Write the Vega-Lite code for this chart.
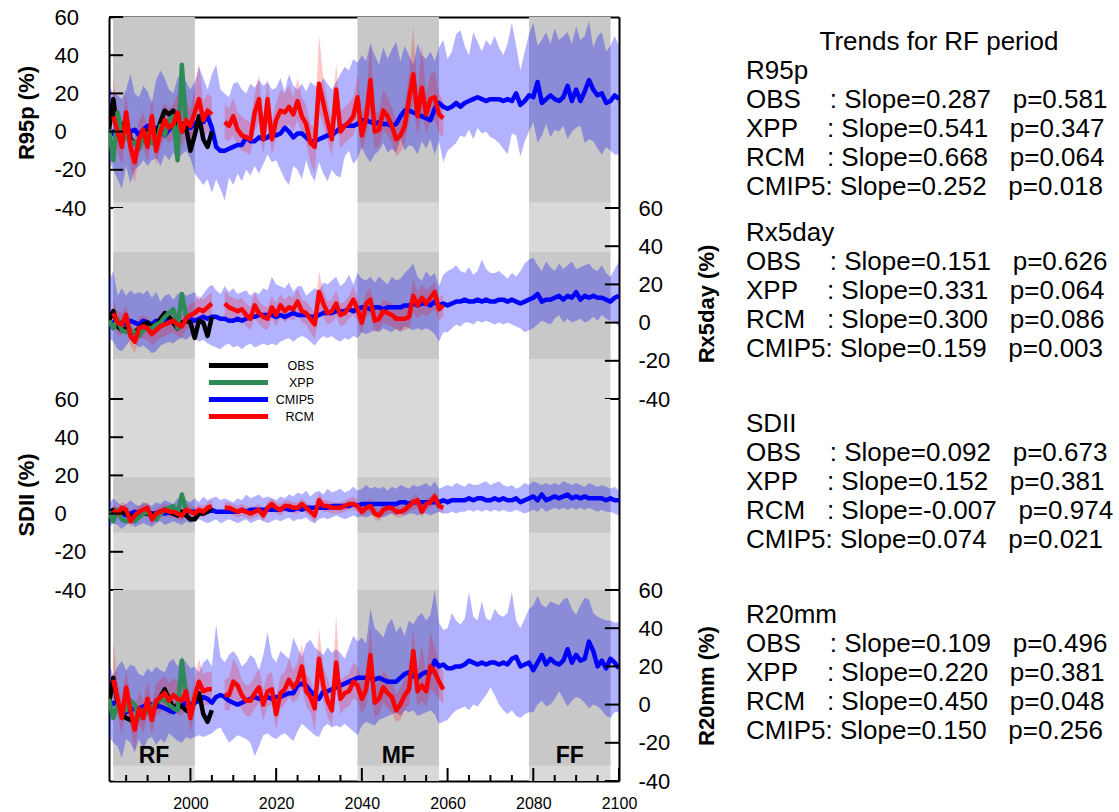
{
"$schema": "https://vega.github.io/schema/vega-lite/v6.json",
"padding": {"left": 15, "top": 6, "right": 0, "bottom": 0},
"autosize": {"type": "pad"},
"config": {
 "font": "Liberation Sans",
 "view": {"stroke": null},
 "axis": {"domainColor": "#000", "domainWidth": 2, "labelColor": "#000", "titleColor": "#000", "labelFont": "Liberation Sans", "titleFont": "Liberation Sans", "grid": false, "ticks": false, "zindex": 1},
 "legend": {"padding": 0}
},
"datasets": {
"yt": [{"v":-40},{"v":-20},{"v":0},{"v":20},{"v":40},{"v":60}],
"xmaj": [{"v":2000},{"v":2020},{"v":2040},{"v":2060},{"v":2080},{"v":2100}],
"xmin": [{"v":1985},{"v":1990},{"v":1995},{"v":2005},{"v":2010},{"v":2015},{"v":2025},{"v":2030},{"v":2035},{"v":2045},{"v":2050},{"v":2055},{"v":2065},{"v":2070},{"v":2075},{"v":2085},{"v":2090},{"v":2095}],
"bands": [{"a":1982,"b":2001},{"a":2039,"b":2058},{"a":2079,"b":2098}],
"dark": [
{"p":"R95p","a":1982,"b":2001,"lo":-37,"hi":60},{"p":"R95p","a":2039,"b":2058,"lo":-37,"hi":60},{"p":"R95p","a":2079,"b":2098,"lo":-37,"hi":60},
{"p":"Rx5day","a":1982,"b":2001,"lo":-19,"hi":37},{"p":"Rx5day","a":2039,"b":2058,"lo":-19,"hi":37},{"p":"Rx5day","a":2079,"b":2098,"lo":-19,"hi":37},
{"p":"SDII","a":1982,"b":2001,"lo":-10,"hi":19},{"p":"SDII","a":2039,"b":2058,"lo":-10,"hi":19},{"p":"SDII","a":2079,"b":2098,"lo":-10,"hi":19},
{"p":"R20mm","a":1982,"b":2001,"lo":-32,"hi":60},{"p":"R20mm","a":2039,"b":2058,"lo":-32,"hi":60},{"p":"R20mm","a":2079,"b":2098,"lo":-32,"hi":60}
],
"r95": [
{"t":1981,"m":-3,"lo":-15,"hi":24,"o":1,"x":1},
{"t":1982,"m":0,"lo":-20,"hi":20,"s":1,"r":8,"rl":-5,"rh":29,"o":17,"x":-15},
{"t":1983,"m":1,"lo":-25,"hi":19,"s":1,"r":0,"rl":-10,"rh":10,"o":-1,"x":10},
{"t":1984,"m":-1,"lo":-30,"hi":17,"s":1,"r":-8,"rl":-18,"rh":4,"o":2,"x":-1},
{"t":1985,"m":2,"lo":-18,"hi":22,"s":1,"r":10,"rl":-2,"rh":20,"o":6,"x":-3},
{"t":1986,"m":0,"lo":-27,"hi":30,"s":1,"r":-8,"rl":-18,"rh":2,"o":-4,"x":-5},
{"t":1987,"m":1,"lo":-20,"hi":20,"s":1,"r":-16,"rl":-27,"rh":-5,"o":-6,"x":-6},
{"t":1988,"m":-2,"lo":-18,"hi":18,"s":1,"r":-4,"rl":-12,"rh":6,"o":-8,"x":-9},
{"t":1989,"m":1,"lo":-15,"hi":24,"s":1,"r":1,"rl":-8,"rh":10,"o":-3,"x":-2},
{"t":1990,"m":3,"lo":-18,"hi":21,"s":1,"r":-8,"rl":-16,"rh":2,"o":0,"x":-1},
{"t":1991,"m":0,"lo":-15,"hi":15,"s":1,"r":8,"rl":-2,"rh":18,"o":3,"x":-6},
{"t":1992,"m":2,"lo":-14,"hi":27,"s":1,"r":-10,"rl":-18,"rh":0,"o":-2,"x":-7},
{"t":1993,"m":0,"lo":-18,"hi":32,"s":1,"r":0,"rl":-8,"rh":10,"o":5,"x":3},
{"t":1994,"m":-2,"lo":-12,"hi":28,"s":1,"r":6,"rl":-3,"rh":15,"o":11,"x":-2},
{"t":1995,"m":1,"lo":-15,"hi":22,"s":1,"r":2,"rl":-6,"rh":12,"o":9,"x":6},
{"t":1996,"m":3,"lo":-11,"hi":20,"s":1,"r":4,"rl":-4,"rh":14,"o":11,"x":8},
{"t":1997,"m":2,"lo":-15,"hi":28,"s":1,"r":10,"rl":0,"rh":20,"o":-1,"x":-15},
{"t":1998,"m":0,"lo":-12,"hi":30,"s":1,"r":0,"rl":-8,"rh":10,"o":4,"x":35},
{"t":1999,"m":3,"lo":-10,"hi":26,"s":1,"r":6,"rl":-2,"rh":16,"o":2,"x":3},
{"t":2000,"m":2,"lo":-14,"hi":22,"s":1,"r":3,"rl":-5,"rh":12,"o":-10},
{"t":2001,"m":4,"lo":-22,"hi":26,"s":1,"r":10,"rl":0,"rh":22,"o":-2},
{"t":2002,"m":6,"lo":-25,"hi":34,"s":1,"r":17,"rl":4,"rh":36,"o":8},
{"t":2003,"m":5,"lo":-28,"hi":28,"s":1,"r":6,"rl":-4,"rh":16,"o":-4},
{"t":2004,"m":8,"lo":-25,"hi":22,"s":1,"r":11,"rl":0,"rh":20,"o":-8},
{"t":2005,"m":2,"lo":-32,"hi":30,"s":1,"r":9,"rl":-1,"rh":18,"o":0},
{"t":2006,"m":-8,"lo":-25,"hi":35},
{"t":2007,"m":-10,"lo":-30,"hi":22},
{"t":2008,"m":-10,"lo":-36,"hi":20,"s":2,"r":5,"rl":-4,"rh":14},
{"t":2009,"m":-9,"lo":-24,"hi":18,"s":2,"r":3,"rl":-5,"rh":12},
{"t":2010,"m":-8,"lo":-28,"hi":25,"s":2,"r":8,"rl":-2,"rh":18},
{"t":2011,"m":-7,"lo":-22,"hi":26,"s":2,"r":1,"rl":-7,"rh":10},
{"t":2012,"m":-7,"lo":-26,"hi":22,"s":2,"r":-2,"rl":-10,"rh":8},
{"t":2013,"m":-3,"lo":-20,"hi":20,"s":2,"r":-3,"rl":-11,"rh":6},
{"t":2014,"m":-5,"lo":-23,"hi":25,"s":2,"r":-4,"rl":-12,"rh":5},
{"t":2015,"m":-5,"lo":-18,"hi":23,"s":2,"r":10,"rl":0,"rh":20},
{"t":2016,"m":-3,"lo":-22,"hi":27,"s":2,"r":17,"rl":5,"rh":30},
{"t":2017,"m":-4,"lo":-17,"hi":24,"s":2,"r":-4,"rl":-12,"rh":6},
{"t":2018,"m":-3,"lo":-12,"hi":26,"s":2,"r":17,"rl":6,"rh":28},
{"t":2019,"m":-1,"lo":-16,"hi":22,"s":2,"r":-4,"rl":-12,"rh":6},
{"t":2020,"m":-2,"lo":-15,"hi":23,"s":2,"r":6,"rl":-3,"rh":15},
{"t":2021,"m":-1,"lo":-20,"hi":28,"s":2,"r":11,"rl":2,"rh":22},
{"t":2022,"m":2,"lo":-25,"hi":21,"s":2,"r":10,"rl":1,"rh":20},
{"t":2023,"m":0,"lo":-28,"hi":30,"s":2,"r":13,"rl":4,"rh":24},
{"t":2024,"m":-3,"lo":-18,"hi":24,"s":2,"r":9,"rl":0,"rh":18},
{"t":2025,"m":-1,"lo":-20,"hi":22,"s":2,"r":16,"rl":6,"rh":28},
{"t":2026,"m":-1,"lo":-25,"hi":25,"s":2,"r":8,"rl":-2,"rh":18},
{"t":2027,"m":-3,"lo":-15,"hi":21,"s":2,"r":4,"rl":-6,"rh":14},
{"t":2028,"m":-5,"lo":-22,"hi":26,"s":2,"r":-6,"rl":-16,"rh":4},
{"t":2029,"m":-5,"lo":-26,"hi":24,"s":2,"r":-8,"rl":-22,"rh":2},
{"t":2030,"m":-4,"lo":-16,"hi":23,"s":2,"r":25,"rl":10,"rh":51},
{"t":2031,"m":-3,"lo":-22,"hi":28,"s":2,"r":15,"rl":4,"rh":28},
{"t":2032,"m":-2,"lo":-26,"hi":25,"s":2,"r":5,"rl":-5,"rh":15},
{"t":2033,"m":-2,"lo":-20,"hi":22,"s":2,"r":-4,"rl":-13,"rh":6},
{"t":2034,"m":0,"lo":-23,"hi":26,"s":2,"r":22,"rl":8,"rh":36},
{"t":2035,"m":2,"lo":-24,"hi":30,"s":2,"r":0,"rl":-9,"rh":10},
{"t":2036,"m":3,"lo":-13,"hi":34,"s":2,"r":3,"rl":-6,"rh":13},
{"t":2037,"m":3,"lo":-10,"hi":32,"s":2,"r":5,"rl":-4,"rh":15},
{"t":2038,"m":3,"lo":-17,"hi":38,"s":2,"r":8,"rl":-2,"rh":18},
{"t":2039,"m":4,"lo":-14,"hi":36,"s":2,"r":18,"rl":6,"rh":30},
{"t":2040,"m":6,"lo":-8,"hi":40,"s":2,"r":-2,"rl":-11,"rh":8},
{"t":2041,"m":6,"lo":-13,"hi":37,"s":2,"r":7,"rl":-3,"rh":17},
{"t":2042,"m":5,"lo":-16,"hi":46,"s":2,"r":27,"rl":12,"rh":48},
{"t":2043,"m":4,"lo":-12,"hi":40,"s":2,"r":0,"rl":-9,"rh":10},
{"t":2044,"m":5,"lo":-10,"hi":35,"s":2,"r":1,"rl":-8,"rh":10},
{"t":2045,"m":4,"lo":-6,"hi":44,"s":2,"r":11,"rl":1,"rh":22},
{"t":2046,"m":4,"lo":-11,"hi":38,"s":2,"r":8,"rl":-2,"rh":18},
{"t":2047,"m":3,"lo":-9,"hi":43,"s":2,"r":3,"rl":-6,"rh":13},
{"t":2048,"m":4,"lo":-11,"hi":47,"s":2,"r":-4,"rl":-13,"rh":6},
{"t":2049,"m":8,"lo":-4,"hi":37,"s":2,"r":-2,"rl":-11,"rh":8},
{"t":2050,"m":11,"lo":-10,"hi":45,"s":2,"r":3,"rl":-6,"rh":14},
{"t":2051,"m":11,"lo":-7,"hi":40,"s":2,"r":17,"rl":5,"rh":30},
{"t":2052,"m":10,"lo":-8,"hi":35,"s":2,"r":30,"rl":15,"rh":55},
{"t":2053,"m":9,"lo":-12,"hi":46,"s":2,"r":8,"rl":-2,"rh":20},
{"t":2054,"m":8,"lo":-5,"hi":40,"s":2,"r":23,"rl":10,"rh":46},
{"t":2055,"m":7,"lo":-9,"hi":38,"s":2,"r":9,"rl":-1,"rh":20},
{"t":2056,"m":6,"lo":-4,"hi":42,"s":2,"r":17,"rl":5,"rh":30},
{"t":2057,"m":12,"lo":-12,"hi":37,"s":2,"r":18,"rl":6,"rh":32},
{"t":2058,"m":15,"lo":-5,"hi":44,"s":2,"r":9,"rl":-1,"rh":20},
{"t":2059,"m":13,"lo":-16,"hi":48,"s":2,"r":7,"rl":-3,"rh":16},
{"t":2060,"m":12,"lo":-10,"hi":38},{"t":2061,"m":13,"lo":-8,"hi":42},{"t":2062,"m":15,"lo":-6,"hi":51},{"t":2063,"m":13,"lo":-2,"hi":53},
{"t":2064,"m":15,"lo":-3,"hi":45},{"t":2065,"m":16,"lo":1,"hi":40},{"t":2066,"m":17,"lo":-4,"hi":52},{"t":2067,"m":18,"lo":2,"hi":47},
{"t":2068,"m":17,"lo":-1,"hi":42},{"t":2069,"m":16,"lo":0,"hi":48},{"t":2070,"m":17,"lo":-3,"hi":45},{"t":2071,"m":17,"lo":-4,"hi":50},
{"t":2072,"m":17,"lo":-6,"hi":44},{"t":2073,"m":16,"lo":-9,"hi":40},{"t":2074,"m":17,"lo":-12,"hi":46},{"t":2075,"m":16,"lo":-1,"hi":57},
{"t":2076,"m":20,"lo":-2,"hi":45},{"t":2077,"m":14,"lo":-13,"hi":32},{"t":2078,"m":16,"lo":-5,"hi":42},{"t":2079,"m":19,"lo":0,"hi":51},
{"t":2080,"m":18,"lo":5,"hi":57},{"t":2081,"m":26,"lo":-6,"hi":45},{"t":2082,"m":15,"lo":-2,"hi":48},{"t":2083,"m":17,"lo":4,"hi":52},
{"t":2084,"m":19,"lo":-3,"hi":46},{"t":2085,"m":17,"lo":1,"hi":54},{"t":2086,"m":16,"lo":0,"hi":48},{"t":2087,"m":18,"lo":3,"hi":50},
{"t":2088,"m":24,"lo":-4,"hi":52},{"t":2089,"m":16,"lo":0,"hi":46},{"t":2090,"m":22,"lo":2,"hi":55},{"t":2091,"m":16,"lo":3,"hi":48},
{"t":2092,"m":21,"lo":-6,"hi":50},{"t":2093,"m":27,"lo":-4,"hi":58},{"t":2094,"m":22,"lo":-5,"hi":44},{"t":2095,"m":19,"lo":-9,"hi":50},
{"t":2096,"m":20,"lo":-12,"hi":52},{"t":2097,"m":15,"lo":-8,"hi":42},{"t":2098,"m":16,"lo":-10,"hi":45},{"t":2099,"m":19,"lo":-12,"hi":50},
{"t":2100,"m":17,"lo":-12,"hi":45}
],
"rx5": [
{"t":1981,"m":-2,"lo":-8,"hi":22,"o":1,"x":1},
{"t":1982,"m":0,"lo":-10,"hi":27,"s":1,"r":5,"rl":-2,"rh":12,"o":6,"x":-3},
{"t":1983,"m":1,"lo":-14,"hi":14,"s":1,"r":0,"rl":-6,"rh":6,"o":-2,"x":2},
{"t":1984,"m":-1,"lo":-15,"hi":18,"s":1,"r":-1,"rl":-7,"rh":5,"o":-4,"x":-4},
{"t":1985,"m":0,"lo":-12,"hi":14,"s":1,"r":4,"rl":-2,"rh":9,"o":-3,"x":-5},
{"t":1986,"m":1,"lo":-9,"hi":17,"s":1,"r":-7,"rl":-12,"rh":-1,"o":-5,"x":-4},
{"t":1987,"m":0,"lo":-11,"hi":15,"s":1,"r":-10,"rl":-16,"rh":-4,"o":-5,"x":-5},
{"t":1988,"m":-1,"lo":-13,"hi":16,"s":1,"r":-3,"rl":-9,"rh":3,"o":-3,"x":-7},
{"t":1989,"m":1,"lo":-12,"hi":15,"s":1,"r":-2,"rl":-8,"rh":4,"o":-1,"x":-4},
{"t":1990,"m":0,"lo":-14,"hi":17,"s":1,"r":-3,"rl":-9,"rh":3,"o":0,"x":-3},
{"t":1991,"m":-1,"lo":-16,"hi":13,"s":1,"r":-6,"rl":-12,"rh":0,"o":-2,"x":-3},
{"t":1992,"m":1,"lo":-15,"hi":16,"s":1,"r":-4,"rl":-10,"rh":2,"o":-1,"x":-1},
{"t":1993,"m":0,"lo":-12,"hi":11,"s":1,"r":-2,"rl":-8,"rh":4,"o":2,"x":0},
{"t":1994,"m":2,"lo":-11,"hi":14,"s":1,"r":-1,"rl":-7,"rh":5,"o":5,"x":3},
{"t":1995,"m":1,"lo":-10,"hi":15,"s":1,"r":0,"rl":-6,"rh":6,"o":3,"x":5},
{"t":1996,"m":0,"lo":-11,"hi":12,"s":1,"r":1,"rl":-5,"rh":7,"o":0,"x":7},
{"t":1997,"m":-2,"lo":-9,"hi":15,"s":1,"r":-1,"rl":-7,"rh":5,"o":-3,"x":-3},
{"t":1998,"m":-1,"lo":-8,"hi":16,"s":1,"r":-2,"rl":-8,"rh":4,"o":0,"x":15},
{"t":1999,"m":1,"lo":-9,"hi":14,"s":1,"r":2,"rl":-4,"rh":8,"o":1,"x":3},
{"t":2000,"m":2,"lo":-7,"hi":15,"s":1,"r":4,"rl":-2,"rh":10,"o":0},
{"t":2001,"m":1,"lo":-8,"hi":16,"s":1,"r":5,"rl":-1,"rh":11,"o":-8},
{"t":2002,"m":2,"lo":-10,"hi":12,"s":1,"r":7,"rl":1,"rh":14,"o":1},
{"t":2003,"m":3,"lo":-9,"hi":15,"s":1,"r":6,"rl":0,"rh":12,"o":0},
{"t":2004,"m":2,"lo":-11,"hi":18,"s":1,"r":8,"rl":2,"rh":14,"o":-7},
{"t":2005,"m":3,"lo":-12,"hi":20,"s":1,"r":10,"rl":3,"rh":16,"o":3},
{"t":2006,"m":3,"lo":-13,"hi":17},
{"t":2007,"m":2,"lo":-14,"hi":15},
{"t":2008,"m":2,"lo":-12,"hi":19,"s":2,"r":10,"rl":3,"rh":17},
{"t":2009,"m":1,"lo":-11,"hi":16,"s":2,"r":8,"rl":2,"rh":14},
{"t":2010,"m":1,"lo":-13,"hi":18,"s":2,"r":7,"rl":1,"rh":13},
{"t":2011,"m":2,"lo":-12,"hi":15,"s":2,"r":6,"rl":0,"rh":12},
{"t":2012,"m":1,"lo":-14,"hi":16,"s":2,"r":7,"rl":1,"rh":13},
{"t":2013,"m":2,"lo":-12,"hi":17,"s":2,"r":4,"rl":-2,"rh":10},
{"t":2014,"m":3,"lo":-11,"hi":14,"s":2,"r":2,"rl":-4,"rh":8},
{"t":2015,"m":3,"lo":-13,"hi":16,"s":2,"r":9,"rl":3,"rh":16},
{"t":2016,"m":4,"lo":-12,"hi":15,"s":2,"r":5,"rl":-1,"rh":11},
{"t":2017,"m":4,"lo":-11,"hi":18,"s":2,"r":3,"rl":-3,"rh":9},
{"t":2018,"m":4,"lo":-12,"hi":17,"s":2,"r":2,"rl":-4,"rh":8},
{"t":2019,"m":4,"lo":-11,"hi":24,"s":2,"r":8,"rl":2,"rh":14},
{"t":2020,"m":3,"lo":-12,"hi":20,"s":2,"r":4,"rl":-2,"rh":10},
{"t":2021,"m":4,"lo":-10,"hi":19,"s":2,"r":9,"rl":3,"rh":15},
{"t":2022,"m":3,"lo":-9,"hi":18,"s":2,"r":6,"rl":0,"rh":12},
{"t":2023,"m":4,"lo":-8,"hi":21,"s":2,"r":8,"rl":2,"rh":14},
{"t":2024,"m":5,"lo":-10,"hi":16,"s":2,"r":7,"rl":1,"rh":13},
{"t":2025,"m":4,"lo":-8,"hi":19,"s":2,"r":11,"rl":4,"rh":18},
{"t":2026,"m":4,"lo":-7,"hi":19,"s":2,"r":6,"rl":0,"rh":12},
{"t":2027,"m":4,"lo":-8,"hi":14,"s":2,"r":5,"rl":-1,"rh":11},
{"t":2028,"m":3,"lo":-10,"hi":16,"s":2,"r":2,"rl":-5,"rh":8},
{"t":2029,"m":3,"lo":-12,"hi":18,"s":2,"r":-1,"rl":-9,"rh":5},
{"t":2030,"m":4,"lo":-9,"hi":17,"s":2,"r":16,"rl":6,"rh":27},
{"t":2031,"m":5,"lo":-7,"hi":21,"s":2,"r":10,"rl":3,"rh":17},
{"t":2032,"m":5,"lo":-8,"hi":20,"s":2,"r":5,"rl":-1,"rh":11},
{"t":2033,"m":5,"lo":-7,"hi":22,"s":2,"r":6,"rl":0,"rh":12},
{"t":2034,"m":6,"lo":-9,"hi":24,"s":2,"r":10,"rl":3,"rh":17},
{"t":2035,"m":6,"lo":-10,"hi":19,"s":2,"r":4,"rl":-2,"rh":10},
{"t":2036,"m":6,"lo":-8,"hi":21,"s":2,"r":5,"rl":-1,"rh":11},
{"t":2037,"m":7,"lo":-9,"hi":25,"s":2,"r":8,"rl":2,"rh":14},
{"t":2038,"m":6,"lo":-7,"hi":20,"s":2,"r":12,"rl":4,"rh":19},
{"t":2039,"m":7,"lo":-8,"hi":26,"s":2,"r":7,"rl":1,"rh":13},
{"t":2040,"m":8,"lo":-5,"hi":23,"s":2,"r":0,"rl":-6,"rh":6},
{"t":2041,"m":8,"lo":-6,"hi":22,"s":2,"r":10,"rl":3,"rh":16},
{"t":2042,"m":7,"lo":-5,"hi":24,"s":2,"r":12,"rl":5,"rh":18},
{"t":2043,"m":8,"lo":-4,"hi":21,"s":2,"r":1,"rl":-5,"rh":7},
{"t":2044,"m":8,"lo":-5,"hi":24,"s":2,"r":2,"rl":-4,"rh":8},
{"t":2045,"m":7,"lo":-3,"hi":22,"s":2,"r":6,"rl":0,"rh":12},
{"t":2046,"m":8,"lo":-4,"hi":20,"s":2,"r":5,"rl":-1,"rh":11},
{"t":2047,"m":8,"lo":-5,"hi":24,"s":2,"r":4,"rl":-2,"rh":10},
{"t":2048,"m":8,"lo":-3,"hi":22,"s":2,"r":2,"rl":-4,"rh":8},
{"t":2049,"m":8,"lo":-5,"hi":23,"s":2,"r":2,"rl":-4,"rh":8},
{"t":2050,"m":9,"lo":-2,"hi":26,"s":2,"r":2,"rl":-4,"rh":8},
{"t":2051,"m":9,"lo":-3,"hi":28,"s":2,"r":3,"rl":-3,"rh":9},
{"t":2052,"m":10,"lo":-4,"hi":31,"s":2,"r":14,"rl":5,"rh":23},
{"t":2053,"m":9,"lo":-3,"hi":24,"s":2,"r":9,"rl":2,"rh":16},
{"t":2054,"m":10,"lo":-4,"hi":22,"s":2,"r":13,"rl":5,"rh":20},
{"t":2055,"m":10,"lo":-3,"hi":27,"s":2,"r":10,"rl":3,"rh":17},
{"t":2056,"m":9,"lo":-4,"hi":24,"s":2,"r":13,"rl":5,"rh":19},
{"t":2057,"m":11,"lo":-6,"hi":26,"s":2,"r":16,"rl":7,"rh":21},
{"t":2058,"m":9,"lo":-10,"hi":19,"s":2,"r":7,"rl":1,"rh":13},
{"t":2059,"m":10,"lo":-5,"hi":25,"s":2,"r":9,"rl":3,"rh":15},
{"t":2060,"m":9,"lo":-5,"hi":27},{"t":2061,"m":10,"lo":-3,"hi":28},{"t":2062,"m":11,"lo":-1,"hi":30},{"t":2063,"m":11,"lo":-2,"hi":27},
{"t":2064,"m":12,"lo":0,"hi":26},{"t":2065,"m":11,"lo":0,"hi":29},{"t":2066,"m":11,"lo":-1,"hi":25},{"t":2067,"m":12,"lo":1,"hi":27},
{"t":2068,"m":11,"lo":0,"hi":33},{"t":2069,"m":12,"lo":1,"hi":28},{"t":2070,"m":11,"lo":0,"hi":26},{"t":2071,"m":11,"lo":-1,"hi":26},
{"t":2072,"m":12,"lo":0,"hi":27},{"t":2073,"m":12,"lo":-1,"hi":25},{"t":2074,"m":11,"lo":0,"hi":23},{"t":2075,"m":12,"lo":-1,"hi":26},
{"t":2076,"m":11,"lo":-2,"hi":24},{"t":2077,"m":10,"lo":-3,"hi":27},{"t":2078,"m":11,"lo":-5,"hi":31},{"t":2079,"m":12,"lo":-4,"hi":33},
{"t":2080,"m":13,"lo":-3,"hi":34},{"t":2081,"m":15,"lo":-1,"hi":30},{"t":2082,"m":11,"lo":1,"hi":27},{"t":2083,"m":12,"lo":0,"hi":32},
{"t":2084,"m":12,"lo":-1,"hi":29},{"t":2085,"m":13,"lo":2,"hi":27},{"t":2086,"m":14,"lo":4,"hi":31},{"t":2087,"m":12,"lo":0,"hi":28},
{"t":2088,"m":14,"lo":2,"hi":30},{"t":2089,"m":13,"lo":0,"hi":32},{"t":2090,"m":16,"lo":1,"hi":28},{"t":2091,"m":12,"lo":2,"hi":29},
{"t":2092,"m":14,"lo":0,"hi":30},{"t":2093,"m":13,"lo":1,"hi":31},{"t":2094,"m":14,"lo":3,"hi":28},{"t":2095,"m":13,"lo":1,"hi":27},
{"t":2096,"m":13,"lo":4,"hi":30},{"t":2097,"m":12,"lo":2,"hi":26},{"t":2098,"m":11,"lo":1,"hi":24},{"t":2099,"m":13,"lo":0,"hi":28},
{"t":2100,"m":14,"lo":-2,"hi":32}
],
"sdii": [
{"t":1981,"m":0,"lo":-7,"hi":5,"o":0,"x":1},
{"t":1982,"m":1,"lo":-5,"hi":8,"s":1,"r":2,"rl":-1,"rh":5,"o":2,"x":-4},
{"t":1983,"m":0,"lo":-6,"hi":6,"s":1,"r":0,"rl":-3,"rh":3,"o":0,"x":2},
{"t":1984,"m":0,"lo":-8,"hi":4,"s":1,"r":3,"rl":0,"rh":6,"o":1,"x":-3},
{"t":1985,"m":-1,"lo":-6,"hi":5,"s":1,"r":2,"rl":-1,"rh":5,"o":0,"x":-4},
{"t":1986,"m":0,"lo":-5,"hi":7,"s":1,"r":-4,"rl":-7,"rh":-1,"o":-1,"x":-3},
{"t":1987,"m":1,"lo":-7,"hi":5,"s":1,"r":-1,"rl":-4,"rh":2,"o":-2,"x":-4},
{"t":1988,"m":0,"lo":-6,"hi":4,"s":1,"r":1,"rl":-2,"rh":4,"o":-1,"x":-2},
{"t":1989,"m":0,"lo":-5,"hi":6,"s":1,"r":2,"rl":-1,"rh":5,"o":0,"x":0},
{"t":1990,"m":1,"lo":-6,"hi":5,"s":1,"r":3,"rl":0,"rh":6,"o":0,"x":1},
{"t":1991,"m":0,"lo":-7,"hi":4,"s":1,"r":-3,"rl":-6,"rh":0,"o":-1,"x":-2},
{"t":1992,"m":0,"lo":-5,"hi":6,"s":1,"r":0,"rl":-3,"rh":3,"o":0,"x":-3},
{"t":1993,"m":1,"lo":-4,"hi":5,"s":1,"r":1,"rl":-2,"rh":4,"o":1,"x":0},
{"t":1994,"m":0,"lo":-6,"hi":7,"s":1,"r":2,"rl":-1,"rh":5,"o":2,"x":2},
{"t":1995,"m":1,"lo":-5,"hi":6,"s":1,"r":1,"rl":-2,"rh":4,"o":1,"x":3},
{"t":1996,"m":0,"lo":-4,"hi":5,"s":1,"r":1,"rl":-2,"rh":4,"o":0,"x":4},
{"t":1997,"m":1,"lo":-5,"hi":8,"s":1,"r":0,"rl":-3,"rh":3,"o":-1,"x":0},
{"t":1998,"m":0,"lo":-6,"hi":6,"s":1,"r":-1,"rl":-4,"rh":2,"o":1,"x":10},
{"t":1999,"m":1,"lo":-4,"hi":7,"s":1,"r":2,"rl":-1,"rh":5,"o":-1,"x":2},
{"t":2000,"m":1,"lo":-5,"hi":6,"s":1,"r":1,"rl":-2,"rh":4,"o":-3},
{"t":2001,"m":1,"lo":-4,"hi":8,"s":1,"r":0,"rl":-3,"rh":3,"o":-3},
{"t":2002,"m":0,"lo":-3,"hi":6,"s":1,"r":2,"rl":-1,"rh":5,"o":0},
{"t":2003,"m":1,"lo":-4,"hi":9,"s":1,"r":1,"rl":-2,"rh":4,"o":0},
{"t":2004,"m":1,"lo":-5,"hi":7,"s":1,"r":3,"rl":0,"rh":6,"o":1},
{"t":2005,"m":2,"lo":-4,"hi":8,"s":1,"r":4,"rl":1,"rh":7,"o":3},
{"t":2006,"m":1,"lo":-3,"hi":9},
{"t":2007,"m":1,"lo":-5,"hi":7},
{"t":2008,"m":1,"lo":-4,"hi":8,"s":2,"r":3,"rl":0,"rh":6},
{"t":2009,"m":1,"lo":-3,"hi":7,"s":2,"r":3,"rl":0,"rh":6},
{"t":2010,"m":1,"lo":-4,"hi":6,"s":2,"r":2,"rl":-1,"rh":5},
{"t":2011,"m":1,"lo":-5,"hi":8,"s":2,"r":1,"rl":-2,"rh":4},
{"t":2012,"m":2,"lo":-4,"hi":7,"s":2,"r":2,"rl":-1,"rh":5},
{"t":2013,"m":1,"lo":-3,"hi":10,"s":2,"r":1,"rl":-2,"rh":4},
{"t":2014,"m":2,"lo":-5,"hi":8,"s":2,"r":0,"rl":-3,"rh":3},
{"t":2015,"m":2,"lo":-4,"hi":9,"s":2,"r":1,"rl":-2,"rh":4},
{"t":2016,"m":2,"lo":-3,"hi":10,"s":2,"r":2,"rl":-1,"rh":5},
{"t":2017,"m":2,"lo":-4,"hi":8,"s":2,"r":-1,"rl":-4,"rh":2},
{"t":2018,"m":2,"lo":-5,"hi":9,"s":2,"r":3,"rl":0,"rh":6},
{"t":2019,"m":2,"lo":-4,"hi":8,"s":2,"r":5,"rl":2,"rh":8},
{"t":2020,"m":2,"lo":-3,"hi":7,"s":2,"r":3,"rl":0,"rh":6},
{"t":2021,"m":2,"lo":-4,"hi":9,"s":2,"r":2,"rl":-1,"rh":5},
{"t":2022,"m":3,"lo":-3,"hi":8,"s":2,"r":4,"rl":1,"rh":7},
{"t":2023,"m":2,"lo":-2,"hi":10,"s":2,"r":4,"rl":1,"rh":7},
{"t":2024,"m":2,"lo":-4,"hi":9,"s":2,"r":3,"rl":0,"rh":6},
{"t":2025,"m":3,"lo":-3,"hi":11,"s":2,"r":3,"rl":0,"rh":6},
{"t":2026,"m":2,"lo":-3,"hi":10,"s":2,"r":5,"rl":2,"rh":8},
{"t":2027,"m":3,"lo":-2,"hi":12,"s":2,"r":3,"rl":0,"rh":6},
{"t":2028,"m":3,"lo":-4,"hi":9,"s":2,"r":1,"rl":-2,"rh":4},
{"t":2029,"m":3,"lo":-5,"hi":11,"s":2,"r":-1,"rl":-5,"rh":2},
{"t":2030,"m":3,"lo":-3,"hi":12,"s":2,"r":7,"rl":3,"rh":11},
{"t":2031,"m":3,"lo":-2,"hi":10,"s":2,"r":4,"rl":1,"rh":7},
{"t":2032,"m":3,"lo":-3,"hi":13,"s":2,"r":4,"rl":1,"rh":7},
{"t":2033,"m":4,"lo":-2,"hi":11,"s":2,"r":3,"rl":0,"rh":6},
{"t":2034,"m":4,"lo":-1,"hi":12,"s":2,"r":3,"rl":0,"rh":6},
{"t":2035,"m":4,"lo":-2,"hi":13,"s":2,"r":3,"rl":0,"rh":6},
{"t":2036,"m":4,"lo":-3,"hi":11,"s":2,"r":4,"rl":1,"rh":7},
{"t":2037,"m":4,"lo":-2,"hi":12,"s":2,"r":5,"rl":2,"rh":8},
{"t":2038,"m":5,"lo":-1,"hi":14,"s":2,"r":5,"rl":2,"rh":9},
{"t":2039,"m":4,"lo":-2,"hi":12,"s":2,"r":4,"rl":1,"rh":7},
{"t":2040,"m":5,"lo":-1,"hi":13,"s":2,"r":1,"rl":-2,"rh":4},
{"t":2041,"m":5,"lo":-2,"hi":15,"s":2,"r":3,"rl":0,"rh":6},
{"t":2042,"m":5,"lo":-1,"hi":13,"s":2,"r":4,"rl":1,"rh":8},
{"t":2043,"m":5,"lo":0,"hi":14,"s":2,"r":0,"rl":-3,"rh":3},
{"t":2044,"m":5,"lo":-1,"hi":13,"s":2,"r":-1,"rl":-4,"rh":2},
{"t":2045,"m":5,"lo":-2,"hi":14,"s":2,"r":2,"rl":-1,"rh":5},
{"t":2046,"m":5,"lo":-1,"hi":12,"s":2,"r":3,"rl":0,"rh":6},
{"t":2047,"m":5,"lo":0,"hi":14,"s":2,"r":3,"rl":0,"rh":6},
{"t":2048,"m":5,"lo":-1,"hi":13,"s":2,"r":1,"rl":-2,"rh":4},
{"t":2049,"m":6,"lo":0,"hi":15,"s":2,"r":1,"rl":-2,"rh":4},
{"t":2050,"m":6,"lo":-1,"hi":14,"s":2,"r":2,"rl":-1,"rh":5},
{"t":2051,"m":5,"lo":0,"hi":13,"s":2,"r":4,"rl":1,"rh":7},
{"t":2052,"m":6,"lo":0,"hi":15,"s":2,"r":6,"rl":2,"rh":9},
{"t":2053,"m":6,"lo":-1,"hi":14,"s":2,"r":7,"rl":3,"rh":10},
{"t":2054,"m":6,"lo":0,"hi":15,"s":2,"r":1,"rl":-2,"rh":4},
{"t":2055,"m":6,"lo":0,"hi":16,"s":2,"r":5,"rl":2,"rh":8},
{"t":2056,"m":6,"lo":-1,"hi":14,"s":2,"r":6,"rl":3,"rh":9},
{"t":2057,"m":6,"lo":0,"hi":17,"s":2,"r":9,"rl":5,"rh":12},
{"t":2058,"m":6,"lo":1,"hi":13,"s":2,"r":4,"rl":1,"rh":7},
{"t":2059,"m":7,"lo":0,"hi":14,"s":2,"r":3,"rl":0,"rh":6},
{"t":2060,"m":6,"lo":0,"hi":15},{"t":2061,"m":7,"lo":1,"hi":14},{"t":2062,"m":7,"lo":0,"hi":16},{"t":2063,"m":7,"lo":1,"hi":15},
{"t":2064,"m":7,"lo":1,"hi":14},{"t":2065,"m":8,"lo":2,"hi":16},{"t":2066,"m":7,"lo":1,"hi":15},{"t":2067,"m":8,"lo":2,"hi":15},
{"t":2068,"m":8,"lo":1,"hi":16},{"t":2069,"m":7,"lo":2,"hi":17},{"t":2070,"m":7,"lo":1,"hi":15},{"t":2071,"m":8,"lo":2,"hi":16},
{"t":2072,"m":7,"lo":1,"hi":17},{"t":2073,"m":8,"lo":2,"hi":15},{"t":2074,"m":7,"lo":1,"hi":14},{"t":2075,"m":7,"lo":1,"hi":15},
{"t":2076,"m":8,"lo":2,"hi":13},{"t":2077,"m":6,"lo":1,"hi":14},{"t":2078,"m":7,"lo":0,"hi":16},{"t":2079,"m":8,"lo":1,"hi":15},
{"t":2080,"m":9,"lo":2,"hi":17},{"t":2081,"m":7,"lo":1,"hi":16},{"t":2082,"m":10,"lo":3,"hi":15},{"t":2083,"m":7,"lo":1,"hi":16},
{"t":2084,"m":8,"lo":2,"hi":15},{"t":2085,"m":9,"lo":3,"hi":16},{"t":2086,"m":8,"lo":2,"hi":15},{"t":2087,"m":9,"lo":3,"hi":17},
{"t":2088,"m":10,"lo":2,"hi":16},{"t":2089,"m":8,"lo":3,"hi":15},{"t":2090,"m":9,"lo":2,"hi":16},{"t":2091,"m":8,"lo":3,"hi":15},
{"t":2092,"m":9,"lo":2,"hi":14},{"t":2093,"m":8,"lo":3,"hi":16},{"t":2094,"m":8,"lo":2,"hi":15},{"t":2095,"m":8,"lo":1,"hi":14},
{"t":2096,"m":8,"lo":2,"hi":15},{"t":2097,"m":7,"lo":1,"hi":14},{"t":2098,"m":8,"lo":1,"hi":13},{"t":2099,"m":7,"lo":0,"hi":14},
{"t":2100,"m":7,"lo":-1,"hi":12}
],
"r20": [
{"t":1981,"m":0,"lo":-17,"hi":22,"o":0,"x":3},
{"t":1982,"m":1,"lo":-20,"hi":15,"s":1,"r":13,"rl":2,"rh":33,"o":14,"x":-7},
{"t":1983,"m":0,"lo":-22,"hi":20,"s":1,"r":3,"rl":-5,"rh":12,"o":1,"x":0},
{"t":1984,"m":-3,"lo":-28,"hi":23,"s":1,"r":-7,"rl":-16,"rh":2,"o":-5,"x":-2},
{"t":1985,"m":-4,"lo":-18,"hi":18,"s":1,"r":9,"rl":0,"rh":18,"o":-7,"x":-3},
{"t":1986,"m":-3,"lo":-20,"hi":21,"s":1,"r":-3,"rl":-12,"rh":5,"o":-8,"x":2},
{"t":1987,"m":-2,"lo":-25,"hi":20,"s":1,"r":-13,"rl":-24,"rh":-4,"o":-9,"x":0},
{"t":1988,"m":-2,"lo":-18,"hi":16,"s":1,"r":-2,"rl":-10,"rh":7,"o":-6,"x":-7},
{"t":1989,"m":-1,"lo":-24,"hi":15,"s":1,"r":-7,"rl":-15,"rh":2,"o":-4,"x":-3},
{"t":1990,"m":0,"lo":-18,"hi":19,"s":1,"r":3,"rl":-6,"rh":12,"o":-3,"x":-4},
{"t":1991,"m":0,"lo":-17,"hi":17,"s":1,"r":-8,"rl":-16,"rh":1,"o":-2,"x":-1},
{"t":1992,"m":-1,"lo":-21,"hi":20,"s":1,"r":2,"rl":-6,"rh":11,"o":0,"x":1},
{"t":1993,"m":-1,"lo":-18,"hi":18,"s":1,"r":4,"rl":-4,"rh":13,"o":4,"x":3},
{"t":1994,"m":-2,"lo":-20,"hi":17,"s":1,"r":6,"rl":-2,"rh":15,"o":8,"x":2},
{"t":1995,"m":-3,"lo":-15,"hi":22,"s":1,"r":2,"rl":-6,"rh":11,"o":3,"x":0},
{"t":1996,"m":-4,"lo":-17,"hi":24,"s":1,"r":5,"rl":-3,"rh":14,"o":-2,"x":-2},
{"t":1997,"m":-2,"lo":-19,"hi":20,"s":1,"r":3,"rl":-5,"rh":12,"o":0,"x":-3},
{"t":1998,"m":0,"lo":-20,"hi":25,"s":1,"r":2,"rl":-6,"rh":11,"o":-1,"x":23},
{"t":1999,"m":1,"lo":-17,"hi":22,"s":1,"r":7,"rl":-1,"rh":16,"o":-3,"x":3},
{"t":2000,"m":0,"lo":-18,"hi":19,"s":1,"r":-7,"rl":-15,"rh":2,"o":-4},
{"t":2001,"m":1,"lo":-17,"hi":20,"s":1,"r":4,"rl":-4,"rh":13,"o":2},
{"t":2002,"m":2,"lo":-16,"hi":17,"s":1,"r":12,"rl":3,"rh":24,"o":6},
{"t":2003,"m":4,"lo":-17,"hi":22,"s":1,"r":7,"rl":-1,"rh":16,"o":-5},
{"t":2004,"m":3,"lo":-16,"hi":24,"s":1,"r":8,"rl":0,"rh":17,"o":-9},
{"t":2005,"m":1,"lo":-15,"hi":20,"s":1,"r":8,"rl":0,"rh":17,"o":-3},
{"t":2006,"m":4,"lo":-13,"hi":42},
{"t":2007,"m":5,"lo":-12,"hi":25},
{"t":2008,"m":4,"lo":-16,"hi":22,"s":2,"r":5,"rl":-3,"rh":13},
{"t":2009,"m":2,"lo":-20,"hi":26,"s":2,"r":5,"rl":-3,"rh":14},
{"t":2010,"m":1,"lo":-18,"hi":28,"s":2,"r":12,"rl":3,"rh":24},
{"t":2011,"m":0,"lo":-16,"hi":25,"s":2,"r":10,"rl":2,"rh":20},
{"t":2012,"m":1,"lo":-17,"hi":20,"s":2,"r":5,"rl":-3,"rh":13},
{"t":2013,"m":2,"lo":-18,"hi":22,"s":2,"r":2,"rl":-6,"rh":10},
{"t":2014,"m":3,"lo":-20,"hi":26,"s":2,"r":2,"rl":-6,"rh":11},
{"t":2015,"m":4,"lo":-27,"hi":24,"s":2,"r":6,"rl":-2,"rh":15},
{"t":2016,"m":3,"lo":-22,"hi":18,"s":2,"r":9,"rl":1,"rh":19},
{"t":2017,"m":3,"lo":-16,"hi":26,"s":2,"r":0,"rl":-8,"rh":8},
{"t":2018,"m":4,"lo":-15,"hi":38,"s":2,"r":7,"rl":-1,"rh":16},
{"t":2019,"m":3,"lo":-17,"hi":25,"s":2,"r":8,"rl":0,"rh":17},
{"t":2020,"m":4,"lo":-18,"hi":22,"s":2,"r":-5,"rl":-13,"rh":3},
{"t":2021,"m":4,"lo":-16,"hi":28,"s":2,"r":6,"rl":-2,"rh":15},
{"t":2022,"m":5,"lo":-15,"hi":26,"s":2,"r":8,"rl":0,"rh":17},
{"t":2023,"m":6,"lo":-17,"hi":24,"s":2,"r":13,"rl":4,"rh":24},
{"t":2024,"m":6,"lo":-19,"hi":35,"s":2,"r":9,"rl":1,"rh":18},
{"t":2025,"m":10,"lo":-14,"hi":30,"s":2,"r":12,"rl":3,"rh":22},
{"t":2026,"m":11,"lo":-10,"hi":25,"s":2,"r":20,"rl":9,"rh":32},
{"t":2027,"m":10,"lo":-12,"hi":32,"s":2,"r":7,"rl":-1,"rh":16},
{"t":2028,"m":7,"lo":-14,"hi":34,"s":2,"r":4,"rl":-4,"rh":13},
{"t":2029,"m":5,"lo":-16,"hi":30,"s":2,"r":-2,"rl":-14,"rh":6},
{"t":2030,"m":3,"lo":-17,"hi":28,"s":2,"r":24,"rl":12,"rh":40},
{"t":2031,"m":7,"lo":-12,"hi":26,"s":2,"r":10,"rl":2,"rh":20},
{"t":2032,"m":7,"lo":-10,"hi":30,"s":2,"r":2,"rl":-6,"rh":14},
{"t":2033,"m":8,"lo":-12,"hi":27,"s":2,"r":-3,"rl":-11,"rh":5},
{"t":2034,"m":9,"lo":-11,"hi":29,"s":2,"r":22,"rl":10,"rh":47},
{"t":2035,"m":10,"lo":-12,"hi":27,"s":2,"r":3,"rl":-5,"rh":12},
{"t":2036,"m":11,"lo":-10,"hi":24,"s":2,"r":6,"rl":-2,"rh":15},
{"t":2037,"m":12,"lo":-12,"hi":30,"s":2,"r":7,"rl":-1,"rh":16},
{"t":2038,"m":13,"lo":-14,"hi":36,"s":2,"r":12,"rl":3,"rh":22},
{"t":2039,"m":14,"lo":-16,"hi":33,"s":2,"r":10,"rl":2,"rh":20},
{"t":2040,"m":14,"lo":-11,"hi":35,"s":2,"r":3,"rl":-5,"rh":12},
{"t":2041,"m":14,"lo":-9,"hi":32,"s":2,"r":8,"rl":0,"rh":17},
{"t":2042,"m":14,"lo":-10,"hi":50,"s":2,"r":26,"rl":13,"rh":41},
{"t":2043,"m":13,"lo":-11,"hi":40,"s":2,"r":1,"rl":-7,"rh":10},
{"t":2044,"m":14,"lo":-8,"hi":38,"s":2,"r":3,"rl":-5,"rh":12},
{"t":2045,"m":13,"lo":-7,"hi":35,"s":2,"r":9,"rl":1,"rh":18},
{"t":2046,"m":12,"lo":-6,"hi":42,"s":2,"r":6,"rl":-2,"rh":15},
{"t":2047,"m":12,"lo":-5,"hi":45,"s":2,"r":4,"rl":-4,"rh":13},
{"t":2048,"m":12,"lo":-4,"hi":38,"s":2,"r":-3,"rl":-9,"rh":5},
{"t":2049,"m":14,"lo":-6,"hi":41,"s":2,"r":0,"rl":-8,"rh":9},
{"t":2050,"m":16,"lo":-3,"hi":36,"s":2,"r":5,"rl":-3,"rh":14},
{"t":2051,"m":17,"lo":-4,"hi":44,"s":2,"r":8,"rl":0,"rh":18},
{"t":2052,"m":15,"lo":-3,"hi":42,"s":2,"r":28,"rl":15,"rh":40},
{"t":2053,"m":14,"lo":-6,"hi":46,"s":2,"r":7,"rl":-1,"rh":17},
{"t":2054,"m":16,"lo":-5,"hi":48,"s":2,"r":10,"rl":2,"rh":32},
{"t":2055,"m":17,"lo":-4,"hi":44,"s":2,"r":7,"rl":-1,"rh":16},
{"t":2056,"m":17,"lo":-3,"hi":47,"s":2,"r":20,"rl":8,"rh":38},
{"t":2057,"m":23,"lo":-5,"hi":60,"s":2,"r":17,"rl":6,"rh":30},
{"t":2058,"m":20,"lo":-10,"hi":43,"s":2,"r":12,"rl":3,"rh":22},
{"t":2059,"m":21,"lo":-9,"hi":39,"s":2,"r":8,"rl":0,"rh":17},
{"t":2060,"m":19,"lo":-8,"hi":40},{"t":2061,"m":19,"lo":-5,"hi":48},{"t":2062,"m":20,"lo":-3,"hi":44},{"t":2063,"m":20,"lo":-2,"hi":42},
{"t":2064,"m":21,"lo":-1,"hi":45},{"t":2065,"m":23,"lo":-3,"hi":59},{"t":2066,"m":22,"lo":0,"hi":46},{"t":2067,"m":21,"lo":-1,"hi":44},
{"t":2068,"m":22,"lo":2,"hi":54},{"t":2069,"m":21,"lo":5,"hi":45},{"t":2070,"m":22,"lo":9,"hi":44},{"t":2071,"m":22,"lo":5,"hi":50},
{"t":2072,"m":21,"lo":0,"hi":47},{"t":2073,"m":22,"lo":-3,"hi":46},{"t":2074,"m":21,"lo":-5,"hi":48},{"t":2075,"m":24,"lo":-3,"hi":59},
{"t":2076,"m":25,"lo":-6,"hi":44},{"t":2077,"m":20,"lo":-7,"hi":40},{"t":2078,"m":21,"lo":-5,"hi":45},{"t":2079,"m":22,"lo":-4,"hi":50},
{"t":2080,"m":18,"lo":-4,"hi":52},{"t":2081,"m":22,"lo":0,"hi":57},{"t":2082,"m":26,"lo":2,"hi":52},{"t":2083,"m":21,"lo":-1,"hi":51},
{"t":2084,"m":24,"lo":0,"hi":54},{"t":2085,"m":22,"lo":3,"hi":53},{"t":2086,"m":21,"lo":7,"hi":52},{"t":2087,"m":23,"lo":3,"hi":55},
{"t":2088,"m":29,"lo":-1,"hi":56},{"t":2089,"m":22,"lo":2,"hi":50},{"t":2090,"m":26,"lo":4,"hi":47},{"t":2091,"m":23,"lo":3,"hi":52},
{"t":2092,"m":24,"lo":1,"hi":56},{"t":2093,"m":33,"lo":-2,"hi":55},{"t":2094,"m":28,"lo":0,"hi":48},{"t":2095,"m":20,"lo":-1,"hi":46},
{"t":2096,"m":23,"lo":-3,"hi":45},{"t":2097,"m":19,"lo":-6,"hi":44},{"t":2098,"m":24,"lo":-7,"hi":44},{"t":2099,"m":22,"lo":-4,"hi":43},
{"t":2100,"m":19,"lo":-4,"hi":43}
]
},
"columns": 2,
"spacing": {"row": 0, "column": 127},
"bounds": "flush",
"align": "each",
"resolve": {"scale": {"x": "independent", "y": "independent", "color": "shared"}, "legend": {"color": "shared"}},
"concat": [
{
 "width": 510, "height": 191,
 "data": {"name": "r95"},
 "resolve": {"axis": {"x": "independent", "y": "independent"}},
 "layer": [
  {"data": {"name": "bands"}, "mark": {"type": "rect", "color": "#d9d9d9"},
   "encoding": {
    "x": {"field": "a", "type": "quantitative", "scale": {"domain": [1981, 2100], "nice": false, "zero": false}, "axis": {"orient": "top", "labels": false, "title": null}},
    "x2": {"field": "b"},
    "y": {"datum": -40, "type": "quantitative", "scale": {"domain": [-40, 60], "nice": false, "zero": false}, "axis": {"orient": "left", "values": [-40, -20, 0, 20, 40, 60], "labelExpr": "'' + datum.value", "title": "R95p (%)", "titleFontSize": 22, "titleFontWeight": "bold", "titlePadding": 16, "labelFontSize": 22, "labelAlign": "left", "labelPadding": 55, "labelFlush": false, "labelOverlap": false}},
    "y2": {"datum": 60}}},
  {"data": {"name": "dark"}, "transform": [{"filter": "datum.p == 'R95p'"}], "mark": {"type": "rect", "color": "#c8c8c8"},
   "encoding": {"x": {"field": "a", "type": "quantitative", "axis": null}, "x2": {"field": "b"}, "y": {"field": "lo", "type": "quantitative", "axis": {"orient": "right", "labels": false, "title": null}}, "y2": {"field": "hi"}}},
  {"mark": {"type": "area", "color": "#0000ff", "opacity": 0.3, "clip": true},
   "encoding": {"x": {"field": "t", "type": "quantitative", "axis": null}, "y": {"field": "lo", "type": "quantitative", "axis": null}, "y2": {"field": "hi"}}},
  {"mark": {"type": "area", "color": "#ff0000", "opacity": 0.22, "clip": true},
   "encoding": {"x": {"field": "t", "type": "quantitative", "axis": null}, "y": {"field": "rl", "type": "quantitative", "axis": null}, "y2": {"field": "rh"}, "detail": {"field": "s", "type": "nominal"}}},
  {"mark": {"type": "line", "strokeWidth": 4.5, "strokeJoin": "round", "clip": true},
   "encoding": {"x": {"field": "t", "type": "quantitative", "axis": null}, "y": {"field": "m", "type": "quantitative", "axis": null}, "color": {"datum": "CMIP5", "type": "nominal", "scale": {"domain": ["OBS", "XPP", "CMIP5", "RCM"], "range": ["#000000", "#2e8b57", "#0000ff", "#ff0000"]}, "legend": {"title": null, "orient": "none", "legendX": 123, "legendY": 342, "symbolType": "M-7.4,0H7.4", "symbolSize": 64, "symbolStrokeWidth": 5, "labelFontSize": 12.5, "labelColor": "#000", "labelAlign": "right", "labelOffset": 69, "rowPadding": -11, "padding": 0}}}},
  {"mark": {"type": "line", "strokeWidth": 4.5, "strokeJoin": "round", "clip": true},
   "encoding": {"x": {"field": "t", "type": "quantitative", "axis": null}, "y": {"field": "o", "type": "quantitative", "axis": null}, "color": {"datum": "OBS", "type": "nominal", "scale": {"domain": ["OBS", "XPP", "CMIP5", "RCM"], "range": ["#000000", "#2e8b57", "#0000ff", "#ff0000"]}}}},
  {"mark": {"type": "line", "strokeWidth": 4.5, "strokeJoin": "round", "clip": true},
   "encoding": {"x": {"field": "t", "type": "quantitative", "axis": null}, "y": {"field": "x", "type": "quantitative", "axis": null}, "color": {"datum": "XPP", "type": "nominal", "scale": {"domain": ["OBS", "XPP", "CMIP5", "RCM"], "range": ["#000000", "#2e8b57", "#0000ff", "#ff0000"]}}}},
  {"mark": {"type": "line", "strokeWidth": 4.5, "strokeJoin": "round", "clip": true},
   "encoding": {"x": {"field": "t", "type": "quantitative", "axis": null}, "y": {"field": "r", "type": "quantitative", "axis": null}, "detail": {"field": "s", "type": "nominal"}, "color": {"datum": "RCM", "type": "nominal", "scale": {"domain": ["OBS", "XPP", "CMIP5", "RCM"], "range": ["#000000", "#2e8b57", "#0000ff", "#ff0000"]}}}},
  {"data": {"name": "yt"}, "mark": {"type": "rule", "color": "#000", "strokeWidth": 2},
   "encoding": {"x": {"datum": 1981, "type": "quantitative", "axis": null}, "x2": {"datum": 1984.3}, "y": {"field": "v", "type": "quantitative", "axis": null}}}
 ]
},
{
 "width": 374, "height": 191,
 "data": {"values": [
  {"row": 0, "s": "Trends for RF period"},
  {"row": 1, "s": "R95p"},
  {"row": 2, "s": "OBS\u00a0\u00a0\u00a0\u00a0: Slope=0.287\u00a0\u00a0\u00a0p=0.581"},
  {"row": 3, "s": "XPP\u00a0\u00a0\u00a0\u00a0: Slope=0.541\u00a0\u00a0\u00a0p=0.347"},
  {"row": 4, "s": "RCM\u00a0\u00a0\u00a0: Slope=0.668\u00a0\u00a0\u00a0p=0.064"},
  {"row": 5, "s": "CMIP5: Slope=0.252\u00a0\u00a0\u00a0p=0.018"}
 ]},
 "layer": [
  {"transform": [{"filter": "datum.row == 0"}], "mark": {"type": "text", "align": "center", "baseline": "middle", "fontSize": 26, "font": "Liberation Sans", "color": "#000"},
   "encoding": {"x": {"datum": 0.5, "type": "quantitative", "scale": {"domain": [0, 1], "range": [0, 386]}, "axis": null}, "y": {"field": "row", "type": "ordinal", "scale": {"type": "point", "domain": [0, 1, 2, 3, 4, 5], "padding": 0.793, "align": 0.543}, "axis": null}, "text": {"field": "s"}}},
  {"transform": [{"filter": "datum.row > 0"}], "mark": {"type": "text", "align": "left", "baseline": "middle", "fontSize": 26, "font": "Liberation Sans", "color": "#000"},
   "encoding": {"x": {"datum": 0, "type": "quantitative", "axis": null}, "y": {"field": "row", "type": "ordinal", "axis": null}, "text": {"field": "s"}}}
 ]
},
{
 "width": 510, "height": 191,
 "data": {"name": "rx5"},
 "resolve": {"axis": {"x": "independent", "y": "independent"}},
 "layer": [
  {"data": {"name": "bands"}, "mark": {"type": "rect", "color": "#d9d9d9"},
   "encoding": {
    "x": {"field": "a", "type": "quantitative", "scale": {"domain": [1981, 2100], "nice": false, "zero": false}, "axis": null},
    "x2": {"field": "b"},
    "y": {"datum": -40, "type": "quantitative", "scale": {"domain": [-40, 60], "nice": false, "zero": false}, "axis": {"orient": "left", "labels": false, "title": null}},
    "y2": {"datum": 60}}},
  {"data": {"name": "dark"}, "transform": [{"filter": "datum.p == 'Rx5day'"}], "mark": {"type": "rect", "color": "#c8c8c8"},
   "encoding": {"x": {"field": "a", "type": "quantitative", "axis": null}, "x2": {"field": "b"}, "y": {"field": "lo", "type": "quantitative", "axis": {"orient": "right", "values": [-40, -20, 0, 20, 40, 60], "labelExpr": "'' + datum.value", "title": "Rx5day (%)", "titleAngle": 270, "titleBaseline": "top", "titleFontSize": 22, "titleFontWeight": "bold", "titlePadding": 27, "labelFontSize": 22, "labelAlign": "left", "labelPadding": 19, "labelFlush": false, "labelOverlap": false}}, "y2": {"field": "hi"}}},
  {"mark": {"type": "area", "color": "#0000ff", "opacity": 0.3, "clip": true},
   "encoding": {"x": {"field": "t", "type": "quantitative", "axis": null}, "y": {"field": "lo", "type": "quantitative", "axis": null}, "y2": {"field": "hi"}}},
  {"mark": {"type": "area", "color": "#ff0000", "opacity": 0.22, "clip": true},
   "encoding": {"x": {"field": "t", "type": "quantitative", "axis": null}, "y": {"field": "rl", "type": "quantitative", "axis": null}, "y2": {"field": "rh"}, "detail": {"field": "s", "type": "nominal"}}},
  {"mark": {"type": "line", "strokeWidth": 4.5, "strokeJoin": "round", "clip": true},
   "encoding": {"x": {"field": "t", "type": "quantitative", "axis": null}, "y": {"field": "m", "type": "quantitative", "axis": null}, "color": {"datum": "CMIP5", "type": "nominal", "scale": {"domain": ["OBS", "XPP", "CMIP5", "RCM"], "range": ["#000000", "#2e8b57", "#0000ff", "#ff0000"]}}}},
  {"mark": {"type": "line", "strokeWidth": 4.5, "strokeJoin": "round", "clip": true},
   "encoding": {"x": {"field": "t", "type": "quantitative", "axis": null}, "y": {"field": "o", "type": "quantitative", "axis": null}, "color": {"datum": "OBS", "type": "nominal", "scale": {"domain": ["OBS", "XPP", "CMIP5", "RCM"], "range": ["#000000", "#2e8b57", "#0000ff", "#ff0000"]}}}},
  {"mark": {"type": "line", "strokeWidth": 4.5, "strokeJoin": "round", "clip": true},
   "encoding": {"x": {"field": "t", "type": "quantitative", "axis": null}, "y": {"field": "x", "type": "quantitative", "axis": null}, "color": {"datum": "XPP", "type": "nominal", "scale": {"domain": ["OBS", "XPP", "CMIP5", "RCM"], "range": ["#000000", "#2e8b57", "#0000ff", "#ff0000"]}}}},
  {"mark": {"type": "line", "strokeWidth": 4.5, "strokeJoin": "round", "clip": true},
   "encoding": {"x": {"field": "t", "type": "quantitative", "axis": null}, "y": {"field": "r", "type": "quantitative", "axis": null}, "detail": {"field": "s", "type": "nominal"}, "color": {"datum": "RCM", "type": "nominal", "scale": {"domain": ["OBS", "XPP", "CMIP5", "RCM"], "range": ["#000000", "#2e8b57", "#0000ff", "#ff0000"]}}}},
  {"data": {"name": "yt"}, "mark": {"type": "rule", "color": "#000", "strokeWidth": 2},
   "encoding": {"x": {"datum": 2096.7, "type": "quantitative", "axis": null}, "x2": {"datum": 2100}, "y": {"field": "v", "type": "quantitative", "axis": null}}}
 ]
},
{
 "width": 374, "height": 191,
 "data": {"values": [
  {"row": 0, "s": "Rx5day"},
  {"row": 1, "s": "OBS\u00a0\u00a0\u00a0\u00a0: Slope=0.151\u00a0\u00a0\u00a0p=0.626"},
  {"row": 2, "s": "XPP\u00a0\u00a0\u00a0\u00a0: Slope=0.331\u00a0\u00a0\u00a0p=0.064"},
  {"row": 3, "s": "RCM\u00a0\u00a0\u00a0: Slope=0.300\u00a0\u00a0\u00a0p=0.086"},
  {"row": 4, "s": "CMIP5: Slope=0.159\u00a0\u00a0\u00a0p=0.003"}
 ]},
 "mark": {"type": "text", "align": "left", "baseline": "middle", "fontSize": 26, "font": "Liberation Sans", "color": "#000"},
 "encoding": {"x": {"datum": 0, "type": "quantitative", "scale": {"domain": [0, 1], "range": [0, 386]}, "axis": null}, "y": {"field": "row", "type": "ordinal", "scale": {"type": "point", "domain": [0, 1, 2, 3, 4, 5], "padding": 0.793, "align": 0.543}, "axis": null}, "text": {"field": "s"}}
},
{
 "width": 510, "height": 191,
 "data": {"name": "sdii"},
 "resolve": {"axis": {"x": "independent", "y": "independent"}},
 "layer": [
  {"data": {"name": "bands"}, "mark": {"type": "rect", "color": "#d9d9d9"},
   "encoding": {
    "x": {"field": "a", "type": "quantitative", "scale": {"domain": [1981, 2100], "nice": false, "zero": false}, "axis": null},
    "x2": {"field": "b"},
    "y": {"datum": -40, "type": "quantitative", "scale": {"domain": [-40, 60], "nice": false, "zero": false}, "axis": {"orient": "left", "values": [-40, -20, 0, 20, 40, 60], "labelExpr": "'' + datum.value", "title": "SDII (%)", "titleFontSize": 22, "titleFontWeight": "bold", "titlePadding": 16, "labelFontSize": 22, "labelAlign": "left", "labelPadding": 55, "labelFlush": false, "labelOverlap": false}},
    "y2": {"datum": 60}}},
  {"data": {"name": "dark"}, "transform": [{"filter": "datum.p == 'SDII'"}], "mark": {"type": "rect", "color": "#c8c8c8"},
   "encoding": {"x": {"field": "a", "type": "quantitative", "axis": null}, "x2": {"field": "b"}, "y": {"field": "lo", "type": "quantitative", "axis": {"orient": "right", "labels": false, "title": null}}, "y2": {"field": "hi"}}},
  {"mark": {"type": "area", "color": "#0000ff", "opacity": 0.3, "clip": true},
   "encoding": {"x": {"field": "t", "type": "quantitative", "axis": null}, "y": {"field": "lo", "type": "quantitative", "axis": null}, "y2": {"field": "hi"}}},
  {"mark": {"type": "area", "color": "#ff0000", "opacity": 0.22, "clip": true},
   "encoding": {"x": {"field": "t", "type": "quantitative", "axis": null}, "y": {"field": "rl", "type": "quantitative", "axis": null}, "y2": {"field": "rh"}, "detail": {"field": "s", "type": "nominal"}}},
  {"mark": {"type": "line", "strokeWidth": 4.5, "strokeJoin": "round", "clip": true},
   "encoding": {"x": {"field": "t", "type": "quantitative", "axis": null}, "y": {"field": "m", "type": "quantitative", "axis": null}, "color": {"datum": "CMIP5", "type": "nominal", "scale": {"domain": ["OBS", "XPP", "CMIP5", "RCM"], "range": ["#000000", "#2e8b57", "#0000ff", "#ff0000"]}}}},
  {"mark": {"type": "line", "strokeWidth": 4.5, "strokeJoin": "round", "clip": true},
   "encoding": {"x": {"field": "t", "type": "quantitative", "axis": null}, "y": {"field": "o", "type": "quantitative", "axis": null}, "color": {"datum": "OBS", "type": "nominal", "scale": {"domain": ["OBS", "XPP", "CMIP5", "RCM"], "range": ["#000000", "#2e8b57", "#0000ff", "#ff0000"]}}}},
  {"mark": {"type": "line", "strokeWidth": 4.5, "strokeJoin": "round", "clip": true},
   "encoding": {"x": {"field": "t", "type": "quantitative", "axis": null}, "y": {"field": "x", "type": "quantitative", "axis": null}, "color": {"datum": "XPP", "type": "nominal", "scale": {"domain": ["OBS", "XPP", "CMIP5", "RCM"], "range": ["#000000", "#2e8b57", "#0000ff", "#ff0000"]}}}},
  {"mark": {"type": "line", "strokeWidth": 4.5, "strokeJoin": "round", "clip": true},
   "encoding": {"x": {"field": "t", "type": "quantitative", "axis": null}, "y": {"field": "r", "type": "quantitative", "axis": null}, "detail": {"field": "s", "type": "nominal"}, "color": {"datum": "RCM", "type": "nominal", "scale": {"domain": ["OBS", "XPP", "CMIP5", "RCM"], "range": ["#000000", "#2e8b57", "#0000ff", "#ff0000"]}}}},
  {"data": {"name": "yt"}, "mark": {"type": "rule", "color": "#000", "strokeWidth": 2},
   "encoding": {"x": {"datum": 1981, "type": "quantitative", "axis": null}, "x2": {"datum": 1984.3}, "y": {"field": "v", "type": "quantitative", "axis": null}}}
 ]
},
{
 "width": 374, "height": 191,
 "data": {"values": [
  {"row": 0, "s": "SDII"},
  {"row": 1, "s": "OBS\u00a0\u00a0\u00a0\u00a0: Slope=0.092\u00a0\u00a0\u00a0p=0.673"},
  {"row": 2, "s": "XPP\u00a0\u00a0\u00a0\u00a0: Slope=0.152\u00a0\u00a0\u00a0p=0.381"},
  {"row": 3, "s": "RCM\u00a0\u00a0\u00a0: Slope=-0.007\u00a0\u00a0\u00a0p=0.974"},
  {"row": 4, "s": "CMIP5: Slope=0.074\u00a0\u00a0\u00a0p=0.021"}
 ]},
 "mark": {"type": "text", "align": "left", "baseline": "middle", "fontSize": 26, "font": "Liberation Sans", "color": "#000"},
 "encoding": {"x": {"datum": 0, "type": "quantitative", "scale": {"domain": [0, 1], "range": [0, 386]}, "axis": null}, "y": {"field": "row", "type": "ordinal", "scale": {"type": "point", "domain": [0, 1, 2, 3, 4, 5], "padding": 0.793, "align": 0.543}, "axis": null}, "text": {"field": "s"}}
},
{
 "width": 510, "height": 191,
 "data": {"name": "r20"},
 "resolve": {"axis": {"x": "independent", "y": "independent"}},
 "layer": [
  {"data": {"name": "bands"}, "mark": {"type": "rect", "color": "#d9d9d9"},
   "encoding": {
    "x": {"field": "a", "type": "quantitative", "scale": {"domain": [1981, 2100], "nice": false, "zero": false}, "axis": {"orient": "bottom", "values": [2000, 2020, 2040, 2060, 2080, 2100], "format": "d", "title": null, "labelFontSize": 16, "labelPadding": 14, "labelFlush": false, "labelOverlap": false}},
    "x2": {"field": "b"},
    "y": {"datum": -40, "type": "quantitative", "scale": {"domain": [-40, 60], "nice": false, "zero": false}, "axis": {"orient": "left", "labels": false, "title": null}},
    "y2": {"datum": 60}}},
  {"data": {"name": "dark"}, "transform": [{"filter": "datum.p == 'R20mm'"}], "mark": {"type": "rect", "color": "#c8c8c8"},
   "encoding": {"x": {"field": "a", "type": "quantitative", "axis": null}, "x2": {"field": "b"}, "y": {"field": "lo", "type": "quantitative", "axis": {"orient": "right", "values": [-40, -20, 0, 20, 40, 60], "labelExpr": "'' + datum.value", "title": "R20mm (%)", "titleAngle": 270, "titleBaseline": "top", "titleFontSize": 22, "titleFontWeight": "bold", "titlePadding": 27, "labelFontSize": 22, "labelAlign": "left", "labelPadding": 19, "labelFlush": false, "labelOverlap": false}}, "y2": {"field": "hi"}}},
  {"mark": {"type": "area", "color": "#0000ff", "opacity": 0.3, "clip": true},
   "encoding": {"x": {"field": "t", "type": "quantitative", "axis": null}, "y": {"field": "lo", "type": "quantitative", "axis": null}, "y2": {"field": "hi"}}},
  {"mark": {"type": "area", "color": "#ff0000", "opacity": 0.22, "clip": true},
   "encoding": {"x": {"field": "t", "type": "quantitative", "axis": null}, "y": {"field": "rl", "type": "quantitative", "axis": null}, "y2": {"field": "rh"}, "detail": {"field": "s", "type": "nominal"}}},
  {"mark": {"type": "line", "strokeWidth": 4.5, "strokeJoin": "round", "clip": true},
   "encoding": {"x": {"field": "t", "type": "quantitative", "axis": null}, "y": {"field": "m", "type": "quantitative", "axis": null}, "color": {"datum": "CMIP5", "type": "nominal", "scale": {"domain": ["OBS", "XPP", "CMIP5", "RCM"], "range": ["#000000", "#2e8b57", "#0000ff", "#ff0000"]}}}},
  {"mark": {"type": "line", "strokeWidth": 4.5, "strokeJoin": "round", "clip": true},
   "encoding": {"x": {"field": "t", "type": "quantitative", "axis": null}, "y": {"field": "o", "type": "quantitative", "axis": null}, "color": {"datum": "OBS", "type": "nominal", "scale": {"domain": ["OBS", "XPP", "CMIP5", "RCM"], "range": ["#000000", "#2e8b57", "#0000ff", "#ff0000"]}}}},
  {"mark": {"type": "line", "strokeWidth": 4.5, "strokeJoin": "round", "clip": true},
   "encoding": {"x": {"field": "t", "type": "quantitative", "axis": null}, "y": {"field": "x", "type": "quantitative", "axis": null}, "color": {"datum": "XPP", "type": "nominal", "scale": {"domain": ["OBS", "XPP", "CMIP5", "RCM"], "range": ["#000000", "#2e8b57", "#0000ff", "#ff0000"]}}}},
  {"mark": {"type": "line", "strokeWidth": 4.5, "strokeJoin": "round", "clip": true},
   "encoding": {"x": {"field": "t", "type": "quantitative", "axis": null}, "y": {"field": "r", "type": "quantitative", "axis": null}, "detail": {"field": "s", "type": "nominal"}, "color": {"datum": "RCM", "type": "nominal", "scale": {"domain": ["OBS", "XPP", "CMIP5", "RCM"], "range": ["#000000", "#2e8b57", "#0000ff", "#ff0000"]}}}},
  {"data": {"values": [{"t": 1991.5, "v": -27, "s": "RF"}, {"t": 2048.5, "v": -27, "s": "MF"}, {"t": 2088.5, "v": -27, "s": "FF"}]},
   "mark": {"type": "text", "fontSize": 23, "fontWeight": "bold", "font": "Liberation Sans", "color": "#000", "baseline": "middle", "align": "center"},
   "encoding": {"x": {"field": "t", "type": "quantitative", "axis": null}, "y": {"field": "v", "type": "quantitative", "axis": null}, "text": {"field": "s"}}},
  {"data": {"name": "yt"}, "mark": {"type": "rule", "color": "#000", "strokeWidth": 2},
   "encoding": {"x": {"datum": 2096.7, "type": "quantitative", "axis": null}, "x2": {"datum": 2100}, "y": {"field": "v", "type": "quantitative", "axis": null}}},
  {"data": {"name": "xmaj"}, "mark": {"type": "tick", "orient": "vertical", "size": 13, "thickness": 2, "color": "#000", "opacity": 1, "yOffset": -6.5},
   "encoding": {"x": {"field": "v", "type": "quantitative", "axis": null}, "y": {"datum": -40, "type": "quantitative", "axis": null}}},
  {"data": {"name": "xmin"}, "mark": {"type": "tick", "orient": "vertical", "size": 6, "thickness": 2, "color": "#000", "opacity": 1, "yOffset": -3},
   "encoding": {"x": {"field": "v", "type": "quantitative", "axis": null}, "y": {"datum": -40, "type": "quantitative", "axis": null}}}
 ]
},
{
 "width": 374, "height": 191,
 "data": {"values": [
  {"row": 0, "s": "R20mm"},
  {"row": 1, "s": "OBS\u00a0\u00a0\u00a0\u00a0: Slope=0.109\u00a0\u00a0\u00a0p=0.496"},
  {"row": 2, "s": "XPP\u00a0\u00a0\u00a0\u00a0: Slope=0.220\u00a0\u00a0\u00a0p=0.381"},
  {"row": 3, "s": "RCM\u00a0\u00a0\u00a0: Slope=0.450\u00a0\u00a0\u00a0p=0.048"},
  {"row": 4, "s": "CMIP5: Slope=0.150\u00a0\u00a0\u00a0p=0.256"}
 ]},
 "mark": {"type": "text", "align": "left", "baseline": "middle", "fontSize": 26, "font": "Liberation Sans", "color": "#000"},
 "encoding": {"x": {"datum": 0, "type": "quantitative", "scale": {"domain": [0, 1], "range": [0, 386]}, "axis": null}, "y": {"field": "row", "type": "ordinal", "scale": {"type": "point", "domain": [0, 1, 2, 3, 4, 5], "padding": 0.793, "align": 0.543}, "axis": null}, "text": {"field": "s"}}
}
]
}
